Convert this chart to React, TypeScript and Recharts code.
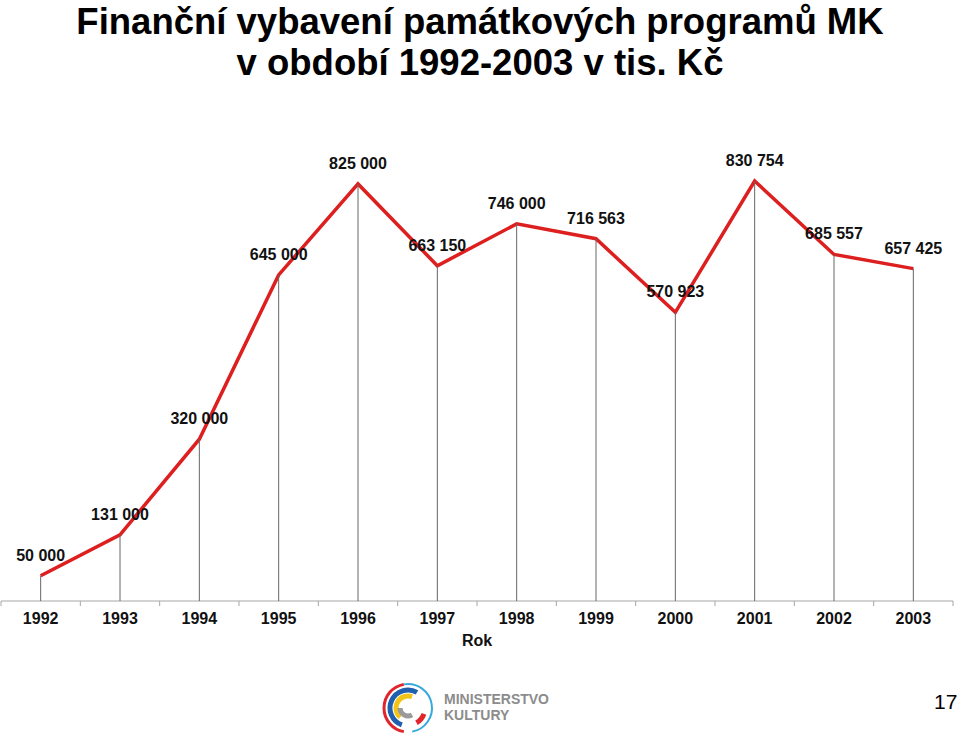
import { LineChart, Line, XAxis, YAxis, LabelList } from 'recharts';

const years = ['1992', '1993', '1994', '1995', '1996', '1997', '1998', '1999', '2000', '2001', '2002', '2003'];
const amounts = [50000, 131000, 320000, 645000, 825000, 663150, 746000, 716563, 570923, 830754, 685557, 657425];

const chartData = years.map((year, i) => ({ year, value: amounts[i] }));

const W = 960;
const H = 736;
const margin = { top: 146, right: 7, bottom: 105, left: 1 };
const axisY = H - margin.bottom - 30;
const band = (W - margin.left - margin.right) / years.length;

const fmt = (v: number) => String(v).replace(/\B(?=(\d{3})+(?!\d))/g, ' ');

const font = 'Arial, "Liberation Sans", sans-serif';

function YearTick(props: any) {
  const { x, y, payload, index } = props;
  return (
    <g>
      <line x1={x - band / 2} y1={y} x2={x - band / 2} y2={y + 5} stroke="#a6a6a6" />
      {index === years.length - 1 && (
        <line x1={x + band / 2} y1={y} x2={x + band / 2} y2={y + 5} stroke="#a6a6a6" />
      )}
      <text x={x} y={y + 23} textAnchor="middle" fontFamily={font} fontWeight="bold" fontSize={16} fill="#111">
        {payload.value}
      </text>
    </g>
  );
}

function DropLine(props: any) {
  const { cx, cy, index } = props;
  return <line key={'drop-' + index} x1={cx} y1={cy} x2={cx} y2={axisY} stroke="#666" strokeWidth={1} />;
}

function Logo() {
  const cx = 408;
  const cy = 708;
  const arc = (r: number, a0: number, a1: number) => {
    const rad = (a: number) => (a * Math.PI) / 180;
    const x0 = cx + r * Math.cos(rad(a0));
    const y0 = cy + r * Math.sin(rad(a0));
    const x1 = cx + r * Math.cos(rad(a1));
    const y1 = cy + r * Math.sin(rad(a1));
    const large = a1 - a0 > 180 ? 1 : 0;
    return `M ${x0} ${y0} A ${r} ${r} 0 ${large} 1 ${x1} ${y1}`;
  };
  return (
    <svg width={200} height={66} style={{ position: 'absolute', left: 370, top: 670 }} viewBox="370 670 200 66">
      <path d={arc(24, 100, 260)} stroke="#e0262b" strokeWidth={3} fill="none" />
      <path d={arc(24, 260, 440)} stroke="#38a9dc" strokeWidth={2} fill="none" />
      <path d={arc(18, 110, 300)} stroke="#1f5fae" strokeWidth={5} fill="none" />
      <path d={arc(12, 130, 290)} stroke="#f3c418" strokeWidth={5} fill="none" />
      <path d={arc(17, 20, 60)} stroke="#e0262b" strokeWidth={5} fill="none" />
      <path d={arc(8, 60, 180)} stroke="#9a9a9a" strokeWidth={5} fill="none" />
      <text x={444} y={704} fontFamily={font} fontWeight="bold" fontSize={14} fill="#8c8c8c">MINISTERSTVO</text>
      <text x={444} y={720} fontFamily={font} fontWeight="bold" fontSize={14} fill="#8c8c8c">KULTURY</text>
    </svg>
  );
}

export default function App() {
  return (
    <div style={{ position: 'absolute', left: 0, top: 0, width: W, height: H, background: '#fff', overflow: 'hidden' }}>
      <div
        style={{
          position: 'absolute',
          left: 0,
          top: 1,
          width: W,
          textAlign: 'center',
          fontFamily: font,
          fontWeight: 'bold',
          fontSize: 36.5,
          lineHeight: '41px',
          color: '#000',
        }}
      >
        Finanční vybavení památkových programů MK
        <br />
        v období 1992-2003 v tis. Kč
      </div>
      <div style={{ position: 'absolute', left: 0, top: 0 }}>
        <LineChart width={W} height={H} data={chartData} margin={margin}>
          <XAxis
            dataKey="year"
            scale="band"
            axisLine={{ stroke: '#a6a6a6' }}
            tickLine={false}
            tickSize={0}
            tickMargin={0}
            height={30}
            interval={0}
            tick={<YearTick />}
          />
          <YAxis hide domain={[0, 900000]} />
          <Line
            dataKey="value"
            type="linear"
            stroke="#dd1f1f"
            strokeWidth={3.5}
            dot={DropLine}
            activeDot={false}
            isAnimationActive={false}
          >
            <LabelList
              dataKey="value"
              position="top"
              offset={15}
              formatter={(v: any) => fmt(Number(v))}
              style={{ fontFamily: font, fontWeight: 'bold', fontSize: 16, fill: '#111' }}
            />
          </Line>
        </LineChart>
      </div>
      <div
        style={{
          position: 'absolute',
          left: 439,
          top: 632,
          width: 76,
          textAlign: 'center',
          fontFamily: font,
          fontWeight: 'bold',
          fontSize: 16,
          color: '#111',
        }}
      >
        Rok
      </div>
      <Logo />
      <div style={{ position: 'absolute', left: 934, top: 690, fontFamily: font, fontSize: 21, color: '#000' }}>17</div>
    </div>
  );
}
